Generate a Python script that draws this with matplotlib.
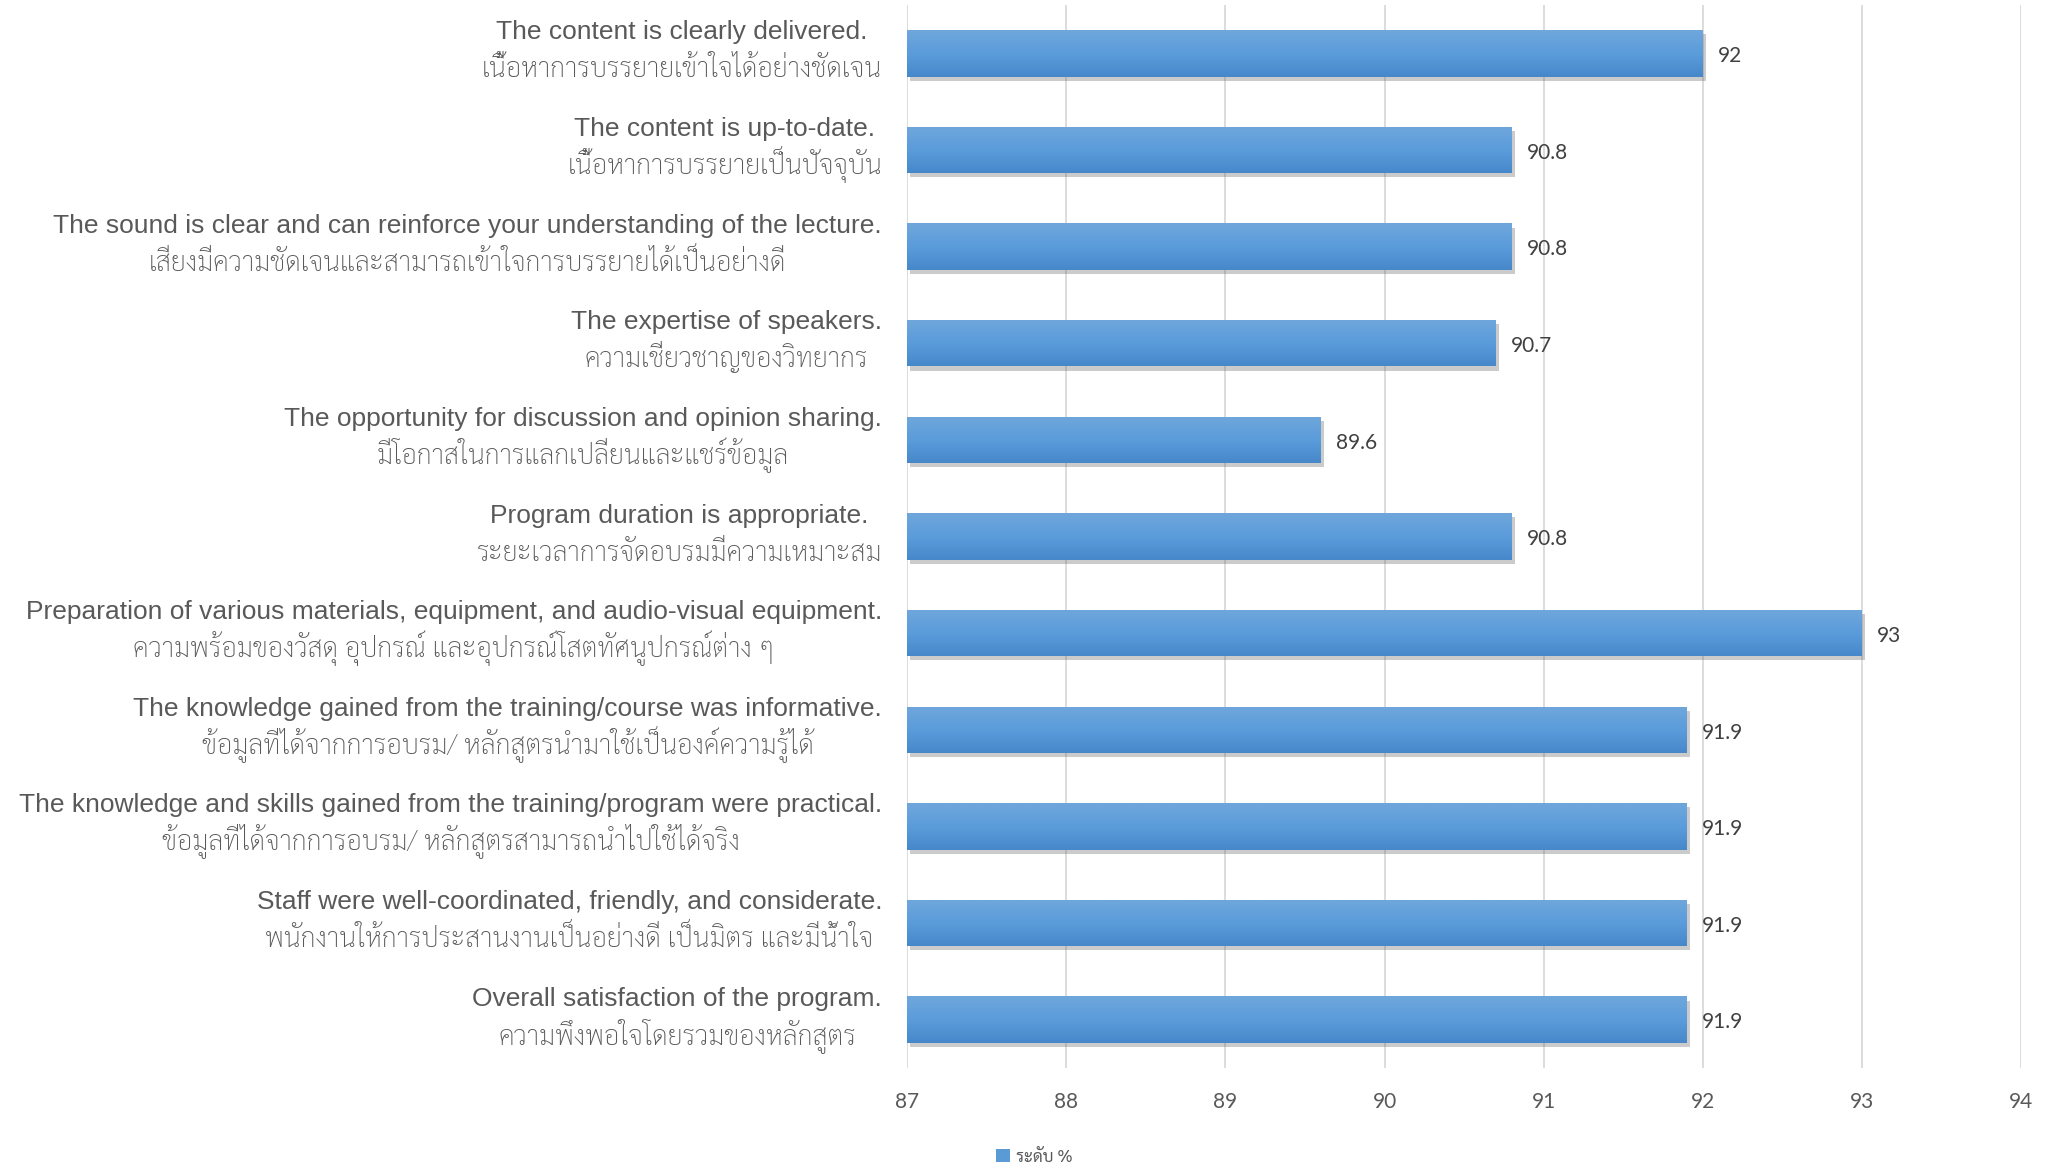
import numpy as np
import matplotlib
matplotlib.use("Agg")
import matplotlib.pyplot as plt
from matplotlib.colors import LinearSegmentedColormap
from matplotlib.patches import Patch
import matplotlib.patheffects as pe

labels_en = [
    "The content is clearly delivered.",
    "The content is up-to-date.",
    "The sound is clear and can reinforce your understanding of the lecture.",
    "The expertise of speakers.",
    "The opportunity for discussion and opinion sharing.",
    "Program duration is appropriate.",
    "Preparation of various materials, equipment, and audio-visual equipment.",
    "The knowledge gained from the training/course was informative.",
    "The knowledge and skills gained from the training/program were practical.",
    "Staff were well-coordinated, friendly, and considerate.",
    "Overall satisfaction of the program.",
]
labels_th = [
    "เนื้อหาการบรรยายเข้าใจได้อย่างชัดเจน",
    "เนื้อหาการบรรยายเป็นปัจจุบัน",
    "เสียงมีความชัดเจนและสามารถเข้าใจการบรรยายได้เป็นอย่างดี",
    "ความเชี่ยวชาญของวิทยากร",
    "มีโอกาสในการแลกเปลี่ยนและแชร์ข้อมูล",
    "ระยะเวลาการจัดอบรมมีความเหมาะสม",
    "ความพร้อมของวัสดุ อุปกรณ์ และอุปกรณ์โสตทัศนูปกรณ์ต่าง ๆ",
    "ข้อมูลที่ได้จากการอบรม/ หลักสูตรนำมาใช้เป็นองค์ความรู้ได้",
    "ข้อมูลที่ได้จากการอบรม/ หลักสูตรสามารถนำไปใช้ได้จริง",
    "พนักงานให้การประสานงานเป็นอย่างดี เป็นมิตร และมีน้ำใจ",
    "ความพึงพอใจโดยรวมของหลักสูตร",
]
scores = [92, 90.8, 90.8, 90.7, 89.6, 90.8, 93, 91.9, 91.9, 91.9, 91.9]
x_ticks = [87, 88, 89, 90, 91, 92, 93, 94]
legend_label = "ระดับ %"

EN_FONT = ["Liberation Sans", "DejaVu Sans"]
TH_FONT = ["Sarabun", "Noto Sans Thai Looped", "Liberation Sans", "DejaVu Sans"]
NUM_FONT = ["Lato", "DejaVu Sans"]
GRAY = "#595959"

fig = plt.figure(figsize=(20.54, 11.65), dpi=100)
ax = fig.add_axes([0.4416, 0.0833, 0.9840 - 0.4416, 0.9957 - 0.0833])

ypos = np.arange(len(scores))
base = x_ticks[0]
height = 0.48
grad = LinearSegmentedColormap.from_list("bar", ["#4688CA", "#5B9CDB", "#6FA7DC"])
gimg = np.linspace(0, 1, 64).reshape(-1, 1)

bars = ax.barh(ypos, np.array(scores) - base, left=base, height=height,
               color="#5B9BD5", zorder=3,
               path_effects=[pe.SimplePatchShadow(offset=(2, -3), alpha=0.3, shadow_rgbFace="#555555"),
                             pe.Normal()])
for b in bars:
    x0, y0 = b.get_x(), b.get_y()
    im = ax.imshow(gimg, extent=[x0, x0 + b.get_width(), y0 + b.get_height(), y0],
                   cmap=grad, aspect="auto", origin="lower", zorder=4, interpolation="bicubic")
    im.set_clip_path(b)

for y, v in zip(ypos, scores):
    ax.annotate(f"{v:g}", xy=(v, y), xytext=(11, -2), textcoords="offset points",
                va="center", ha="left", fontsize=15, color="#404040", family=NUM_FONT)

# two-line category labels: lines centred on each other, block right-aligned
tr = ax.get_yaxis_transform()
EN_DY, TH_DY, GAP = 10, -17.3, 18
pairs = []
for y, en, th in zip(ypos, labels_en, labels_th):
    t_en = ax.annotate(en, xy=(0, y), xycoords=tr, xytext=(0, EN_DY), textcoords="offset points",
                       ha="center", va="baseline", fontsize=19, color=GRAY, family=EN_FONT,
                       annotation_clip=False)
    t_th = ax.annotate(th, xy=(0, y), xycoords=tr, xytext=(0, TH_DY), textcoords="offset points",
                       ha="center", va="baseline", fontsize=19.4, color=GRAY, family=TH_FONT,
                       fontweight="light", annotation_clip=False)
    pairs.append((t_en, t_th))

ax.set_xlim(x_ticks[0], x_ticks[-1])
ax.set_ylim(len(scores) - 0.5, -0.5)
ax.set_xticks(x_ticks)
ax.set_xticklabels([str(t) for t in x_ticks], family=NUM_FONT, fontsize=15, color=GRAY)
ax.set_yticks([])
ax.tick_params(axis="x", length=0, pad=17)
ax.grid(axis="x", color="#D9D9D9", linewidth=1.3, zorder=0)
ax.set_axisbelow(True)
for s in ax.spines.values():
    s.set_visible(False)

fig.legend(handles=[Patch(facecolor="#5B9BD5", edgecolor="none", label=legend_label)],
           loc="center left", bbox_to_anchor=(988 / 2054, 1 - 1157 / 1165), frameon=False,
           prop={"family": TH_FONT, "size": 12}, handlelength=0.8, handleheight=0.8,
           handletextpad=0.4, labelcolor=GRAY, borderpad=0)

fig.canvas.draw()
renderer = fig.canvas.get_renderer()
for t_en, t_th in pairs:
    w = max(t_en.get_window_extent(renderer).width, t_th.get_window_extent(renderer).width)
    cx = -GAP - (w / 2) * 72 / fig.dpi
    t_en.xyann = (cx, EN_DY)
    t_th.xyann = (cx, TH_DY)

fig.savefig("out.png", dpi=100)
